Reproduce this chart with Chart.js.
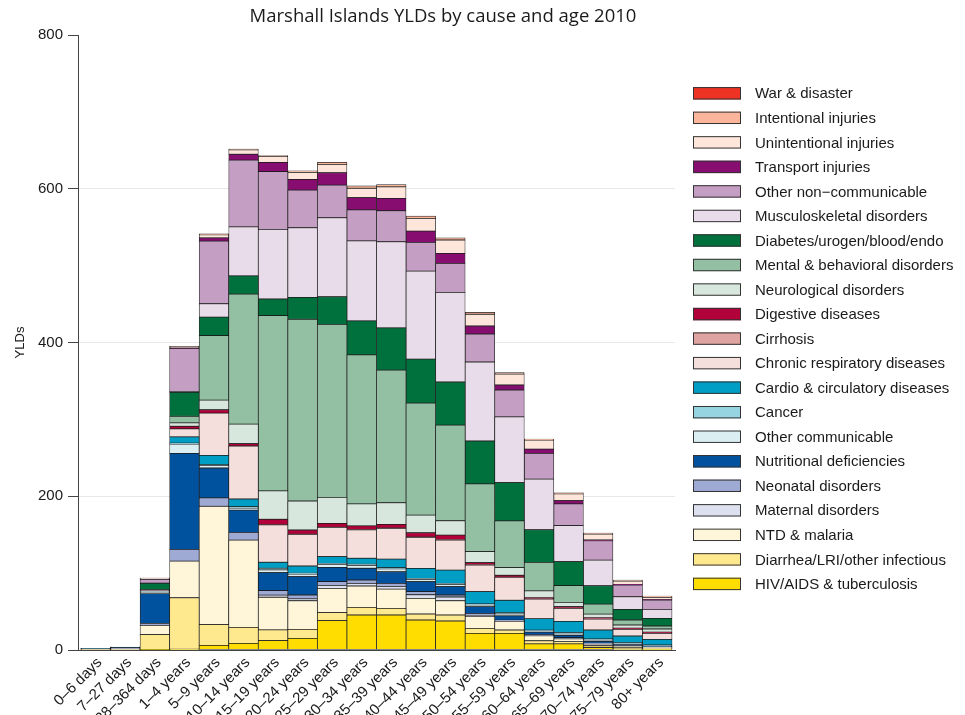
<!DOCTYPE html>
<html>
<head>
<meta charset="utf-8">
<script src="https://cdn.jsdelivr.net/npm/chart.js@4/dist/chart.umd.min.js"></script>
<style>
  html, body { margin: 0; padding: 0; background: #ffffff; overflow: hidden; }
  #wrap { width: 965px; height: 715px; position: relative; }
</style>
</head>
<body>
<div id="wrap"><canvas id="c"></canvas></div>
<script>
// ---- Data (bottom of stack first) ----
const ageGroups = ["0–6 days","7–27 days","28–364 days","1–4 years","5–9 years","10–14 years","15–19 years","20–24 years","25–29 years","30–34 years","35–39 years","40–44 years","45–49 years","50–54 years","55–59 years","60–64 years","65–69 years","70–74 years","75–79 years","80+ years"];

const hivTb          = [0, 0, 0.5, 1, 6, 8.7, 12.1, 15.2, 38.2, 45.5, 45.5, 39, 37.7, 21.7, 21.7, 8, 8, 3, 1.5, 1];
const diarrheaLri    = [0.3, 0.8, 19.5, 67, 27, 20.8, 14, 11.7, 10.4, 10, 8.7, 7.8, 7.8, 6.5, 4.3, 4, 3, 2.5, 2, 1.5];
const ntdMalaria     = [0.1, 0.3, 12, 47.7, 154, 113.5, 42.5, 37.2, 31.6, 27.8, 25, 20.4, 18.6, 15.2, 10.9, 6.5, 3.5, 2.3, 1.5, 1];
const maternal       = [0, 0, 0, 0, 0, 0, 2.7, 2.4, 3.7, 3.3, 3.4, 4.7, 4.9, 1.5, 0.5, 0, 0, 0, 0, 0];
const neonatal       = [1.2, 2, 2.5, 15.2, 10.8, 10, 6, 5, 5, 4.5, 4, 4, 2.5, 2.8, 1.5, 1.5, 1.5, 1, 0.5, 0.3];
const nutritional    = [0.1, 0.3, 39, 124.8, 39, 29, 23.4, 23.9, 18.6, 15.3, 15.2, 13, 10.9, 8.7, 5.5, 3.3, 3, 2.5, 2, 1.5];
const otherComm      = [0.1, 0.1, 1.5, 12.2, 3, 2.5, 3.5, 3.4, 3.7, 3.7, 3.7, 3, 3, 2, 2.8, 1.5, 1.5, 1, 0.8, 0.4];
const cancer         = [0, 0, 0.3, 1.3, 1.4, 1.9, 2.2, 1, 1.5, 1.5, 1.5, 1.3, 1.3, 1.4, 1.5, 1, 2.5, 2, 1.2, 0.8];
const cardio         = [0.05, 0.1, 0.5, 8, 12, 10, 7.8, 9.5, 8.7, 7.8, 11.3, 13, 17.3, 16.1, 16, 15.2, 14.3, 11.7, 8.7, 7.4];
const chronicResp    = [0.1, 0.1, 1, 10.5, 55, 69, 48.5, 41.2, 38.2, 36.8, 40, 40.3, 39, 34.7, 29.5, 25.1, 16.9, 14.3, 8.7, 7.8];
const cirrhosis      = [0, 0, 0, 0, 0, 0, 0.2, 0.3, 0.3, 0.4, 0.4, 0.5, 0.5, 0.5, 0.5, 0.4, 0.3, 0.3, 0.2, 0.2];
const digestive      = [0, 0, 0.3, 3.4, 4.3, 3, 7.2, 5.3, 4.9, 4.8, 4.8, 5.5, 6, 2.5, 2.5, 1.8, 1.9, 1.7, 1.3, 1.3];
const neurological   = [0.05, 0.05, 0.5, 4.3, 12.5, 25.5, 36.8, 37.7, 33.8, 28.6, 28, 23, 18.6, 14.3, 10, 8.7, 5.6, 4.4, 4.1, 4.1];
const mental         = [0, 0, 1, 8.7, 84, 169, 228, 236.4, 225, 193.8, 172.6, 145.7, 124.5, 88.1, 60.7, 36.9, 21.8, 13, 6.5, 3.9];
const diabetes       = [0, 0, 8, 31, 24, 23.8, 21.7, 28.6, 35.9, 44.3, 55, 57.2, 56, 55.9, 49.9, 42.5, 31.2, 23.9, 13.9, 10];
const musculo        = [0, 0, 0.3, 1, 17.4, 63.7, 90.6, 90.5, 102.8, 104, 112, 114.5, 116.7, 102.7, 85.4, 65.8, 46.8, 33.4, 16.4, 11.7];
const otherNcd       = [0, 0, 5, 56, 81.5, 86.8, 75, 49, 42.5, 40.4, 40.3, 37.3, 37.7, 36.4, 35, 33.5, 28.2, 25.1, 15.3, 12.1];
const transport      = [0, 0, 0.2, 1, 4.3, 7.7, 12.2, 13.9, 16, 16, 16.1, 14.7, 13, 10.5, 6.5, 5.6, 4.3, 1, 0.7, 0.5];
const unintentional  = [0.2, 0.2, 1.5, 1.8, 4, 5.7, 7.3, 9.1, 10.9, 12.2, 15, 16.6, 17.3, 15.2, 14.3, 11.7, 8.7, 7.8, 4.5, 3.1];
const intentional    = [0, 0, 0.1, 0.2, 1, 0.9, 1.5, 2, 2.6, 3, 3, 3, 3, 2.6, 2, 1.5, 1.3, 1.3, 1.2, 1.5];
const warDisaster    = [0, 0, 0, 0, 0, 0, 0, 0, 0, 0, 0, 0, 0, 0, 0, 0, 0, 0, 0, 0];

const causeNames = ["HIV/AIDS & tuberculosis","Diarrhea/LRI/other infectious","NTD & malaria","Maternal disorders","Neonatal disorders","Nutritional deficiencies","Other communicable","Cancer","Cardio & circulatory diseases","Chronic respiratory diseases","Cirrhosis","Digestive diseases","Neurological disorders","Mental & behavioral disorders","Diabetes/urogen/blood/endo","Musculoskeletal disorders","Other non−communicable","Transport injuries","Unintentional injuries","Intentional injuries","War & disaster"];
const causeColors = ["#ffdd00","#ffe98f","#fff6da","#dde0ef","#9eaad4","#00529e","#dbeef2","#97d4e2","#009ec4","#f5dfdc","#e0a4a0","#b2003a","#d8e7de","#93bfa3","#00703c","#e8dcea","#c59fc3","#870d70","#fee6db","#fbb59a","#ee3224"];
const seriesValues = [hivTb, diarrheaLri, ntdMalaria, maternal, neonatal, nutritional, otherComm, cancer, cardio, chronicResp, cirrhosis, digestive, neurological, mental, diabetes, musculo, otherNcd, transport, unintentional, intentional, warDisaster];
const yTicks = [0, 200, 400, 600, 800];
const chartTitle = "Marshall Islands YLDs by cause and age 2010";

// ---- Build datasets ----
const datasets = seriesValues.map((vals, k) => ({
  label: causeNames[k],
  data: vals.map((v, i) => ({ x: i + 1, y: v })),
  backgroundColor: causeColors[k],
  borderColor: "rgba(15,15,15,0.9)",
  borderWidth: 0.75,
  borderSkipped: false,
  barPercentage: 1,
  categoryPercentage: 1
}));

const SANS = '"Liberation Sans", Arial, sans-serif';

const decor = {
  id: 'decor',
  afterDraw(chart) {
    const ctx = chart.ctx;
    ctx.save();
    // Title
    ctx.fillStyle = '#1a1a1a';
    ctx.font = '18.5px "Open Sans", sans-serif';
    ctx.textAlign = 'center';
    ctx.textBaseline = 'alphabetic';
    ctx.fillText(chartTitle, 443, 21.7);
    // Legend (top = last dataset)
    const n = causeNames.length;
    ctx.font = '15px ' + SANS;
    ctx.textAlign = 'left';
    ctx.textBaseline = 'middle';
    for (let j = 0; j < n; j++) {
      const k = n - 1 - j;
      const yc = 93.3 + j * 24.53;
      ctx.fillStyle = causeColors[k];
      ctx.fillRect(693, yc - 6.2, 48, 12.4);
      ctx.strokeStyle = '#333';
      ctx.lineWidth = 1;
      ctx.strokeRect(693.5, yc - 5.7, 47, 11.4);
      ctx.fillStyle = '#1a1a1a';
      ctx.fillText(causeNames[k], 755, yc + 1);
    }
    ctx.restore();
  }
};

new Chart(document.getElementById('c'), {
  type: 'bar',
  data: { datasets },
  options: {
    responsive: true,
    maintainAspectRatio: false,
    animation: false,
    devicePixelRatio: 1,
    layout: { padding: { top: 35, right: 290, bottom: 0, left: 0 } },
    plugins: { legend: { display: false }, title: { display: false }, tooltip: { enabled: false } },
    scales: {
      x: {
        type: 'linear',
        stacked: true,
        offset: false,
        min: 0.4,
        max: 20.6,
        afterBuildTicks: (axis) => { axis.ticks = ageGroups.map((_, i) => ({ value: i + 1 })); },
        afterFit: (scale) => { scale.height = 65; },
        grid: { display: false, drawTicks: false, offset: false },
        border: { display: true, color: '#444', width: 1 },
        ticks: {
          autoSkip: false,
          minRotation: 45,
          maxRotation: 45,
          padding: 4,
          labelOffset: 4,
          color: '#1a1a1a',
          font: { family: SANS, size: 15 },
          callback: (v) => ageGroups[Math.round(v) - 1] ?? ''
        }
      },
      y: {
        stacked: true,
        min: 0,
        max: 800,
        afterBuildTicks: (axis) => { axis.ticks = yTicks.map(v => ({ value: v })); },
        afterFit: (scale) => { scale.width = 78; },
        grid: {
          color: (c) => (c.tick && c.tick.value > 0 && c.tick.value < 800) ? '#e8e8e8' : 'rgba(0,0,0,0)',
          tickColor: '#444',
          tickLength: 10,
          lineWidth: 1
        },
        border: { display: true, color: '#444', width: 1 },
        ticks: {
          padding: 5,
          color: '#1a1a1a',
          font: { family: SANS, size: 15 }
        },
        title: {
          display: true,
          text: 'YLDs',
          color: '#1a1a1a',
          font: { family: SANS, size: 13 },
          padding: { top: 13, bottom: 0 }
        }
      }
    }
  },
  plugins: [decor]
});
</script>
</body>
</html>
